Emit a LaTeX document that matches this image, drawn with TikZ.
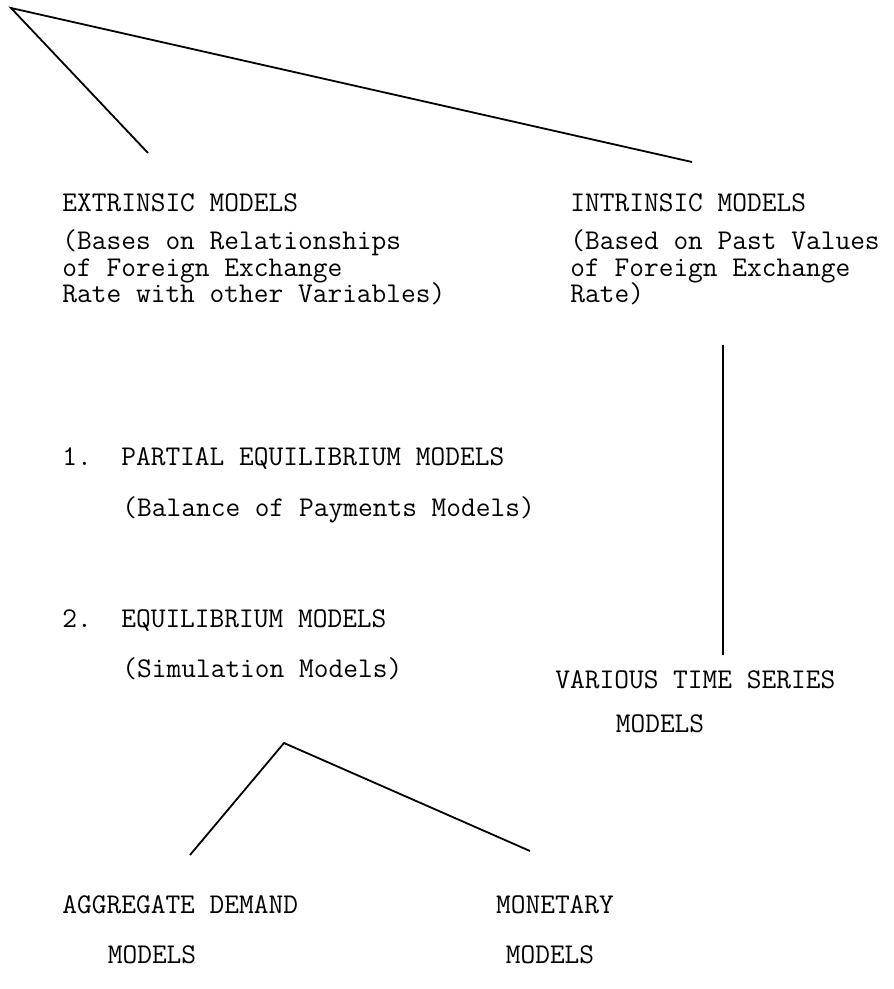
\documentclass[tikz,border=0pt]{standalone}
\usetikzlibrary{positioning}
\begin{document}
\begin{tikzpicture}[x=0.5pt,y=-0.5pt,
    lbl/.style={anchor=base west, inner sep=0pt, font=\fontsize{14.3}{16}\ttfamily},
    clbl/.style={lbl, anchor=base},
    link/.style={line width=0.9pt}]
    \useasboundingbox (0,0) rectangle (893,989);
    % top split
    \coordinate (root) at (11,8);
    \coordinate (extEnd) at (148,153);
    \coordinate (intEnd) at (692,162);
    \draw[link] (extEnd) -- (root) -- (intEnd);
    % extrinsic side
    \node[lbl] (ext) at (62,212) {EXTRINSIC MODELS};
    \node[lbl] (extA) at (62,250) {(Bases on Relationships};
    \node[lbl] (extB) at (62,277) {of Foreign Exchange};
    \node[lbl] (extC) at (62,303) {Rate with other Variables)};
    \node[lbl] (part) at (62,465) {1.\ \ PARTIAL EQUILIBRIUM MODELS};
    \node[lbl] (partA) at (122,516) {(Balance of Payments Models)};
    \node[lbl] (equi) at (62,627) {2.\ \ EQUILIBRIUM MODELS};
    \node[lbl] (equiA) at (122,677) {(Simulation Models)};
    % intrinsic side
    \node[lbl] (int) at (570,212) {INTRINSIC MODELS};
    \node[lbl] (intA) at (570,250) {(Based on Past Values};
    \node[lbl] (intB) at (570,277) {of Foreign Exchange};
    \node[lbl] (intC) at (570,303) {Rate)};
    \node[lbl] (tser) at (555,688) {VARIOUS TIME SERIES};
    \node[clbl] (tserA) at (660,732) {MODELS};
    \coordinate (vTop) at (723,345);
    \coordinate (vBot) at (723,655);
    \draw[link] (vTop) -- (vBot);
    % equilibrium split
    \coordinate (fork) at (284,743);
    \coordinate (aggEnd) at (190,855);
    \coordinate (monEnd) at (530,851);
    \draw[link] (aggEnd) -- (fork) -- (monEnd);
    \node[lbl] (agg) at (62,913) {AGGREGATE DEMAND};
    \node[clbl] (aggA) at (152,963) {MODELS};
    \node[clbl] (mon) at (555,913) {MONETARY};
    \node[clbl] (monA) at (550,963) {MODELS};
\end{tikzpicture}
\end{document}
